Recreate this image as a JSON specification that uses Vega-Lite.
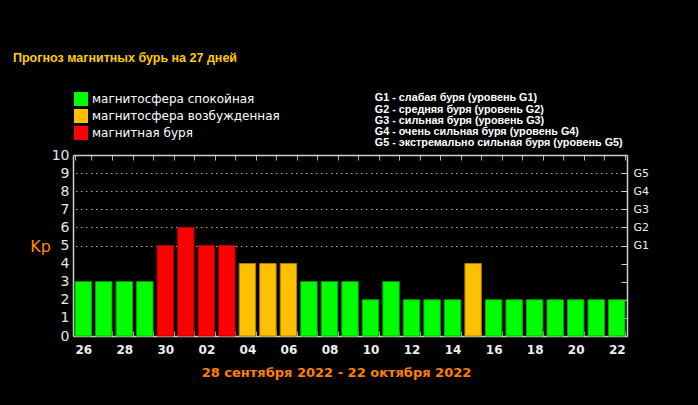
{
  "$schema": "https://vega.github.io/schema/vega-lite/v6.json",
  "width": 554,
  "height": 181,
  "autosize": {"type": "none"},
  "padding": {"left": 73, "top": 155, "right": 71, "bottom": 69},
  "background": "#000000",
  "title": {
    "text": "Прогноз магнитных бурь на 27 дней",
    "anchor": "start",
    "frame": "group",
    "dx": -60,
    "offset": 28,
    "color": "#FFCC00",
    "font": "Liberation Sans",
    "fontSize": 12.5,
    "fontWeight": "bold"
  },
  "config": {
    "view": {"stroke": null},
    "axis": {"domainColor": "#d0d0d0", "domainWidth": 1.5, "tickColor": "#b0b0b0", "grid": false}
  },
  "data": {
    "values": [
      {"day": "26", "kp": 3, "status": "магнитосфера спокойная"},
      {"day": "27", "kp": 3, "status": "магнитосфера спокойная"},
      {"day": "28", "kp": 3, "status": "магнитосфера спокойная"},
      {"day": "29", "kp": 3, "status": "магнитосфера спокойная"},
      {"day": "30", "kp": 5, "status": "магнитная буря"},
      {"day": "01", "kp": 6, "status": "магнитная буря"},
      {"day": "02", "kp": 5, "status": "магнитная буря"},
      {"day": "03", "kp": 5, "status": "магнитная буря"},
      {"day": "04", "kp": 4, "status": "магнитосфера возбужденная"},
      {"day": "05", "kp": 4, "status": "магнитосфера возбужденная"},
      {"day": "06", "kp": 4, "status": "магнитосфера возбужденная"},
      {"day": "07", "kp": 3, "status": "магнитосфера спокойная"},
      {"day": "08", "kp": 3, "status": "магнитосфера спокойная"},
      {"day": "09", "kp": 3, "status": "магнитосфера спокойная"},
      {"day": "10", "kp": 2, "status": "магнитосфера спокойная"},
      {"day": "11", "kp": 3, "status": "магнитосфера спокойная"},
      {"day": "12", "kp": 2, "status": "магнитосфера спокойная"},
      {"day": "13", "kp": 2, "status": "магнитосфера спокойная"},
      {"day": "14", "kp": 2, "status": "магнитосфера спокойная"},
      {"day": "15", "kp": 4, "status": "магнитосфера возбужденная"},
      {"day": "16", "kp": 2, "status": "магнитосфера спокойная"},
      {"day": "17", "kp": 2, "status": "магнитосфера спокойная"},
      {"day": "18", "kp": 2, "status": "магнитосфера спокойная"},
      {"day": "19", "kp": 2, "status": "магнитосфера спокойная"},
      {"day": "20", "kp": 2, "status": "магнитосфера спокойная"},
      {"day": "21", "kp": 2, "status": "магнитосфера спокойная"},
      {"day": "22", "kp": 2, "status": "магнитосфера спокойная"}
    ]
  },
  "layer": [
    {
      "mark": {"type": "bar", "strokeWidth": 1},
      "encoding": {
        "x": {
          "field": "day", "type": "nominal", "sort": null,
          "scale": {"paddingInner": 0.2, "paddingOuter": 0.1},
          "axis": {
            "orient": "bottom",
            "tickBand": "extent",
            "tickSize": -5,
            "labelPadding": 13,
            "labelAngle": 0,
            "labelOverlap": false,
            "labelExpr": "indexof(['26','28','30','02','04','06','08','10','12','14','16','18','20','22'], datum.value) >= 0 ? datum.label : ''",
            "labelColor": "#eeeeee",
            "labelFont": "DejaVu Sans",
            "labelFontSize": 12,
            "labelFontWeight": "bold",
            "title": "28 сентября 2022 - 22 октября 2022",
            "titleX": 263,
            "titleY": 36,
            "titleAlign": "center",
            "titleBaseline": "middle",
            "titleColor": "#FF8000",
            "titleFont": "DejaVu Sans",
            "titleFontSize": 13,
            "titleFontWeight": "bold"
          }
        },
        "y": {
          "field": "kp", "type": "quantitative",
          "scale": {"domain": [0, 10], "nice": false},
          "axis": {
            "orient": "left",
            "values": [0, 1, 2, 3, 4, 5, 6, 7, 8, 9, 10],
            "ticks": false,
            "labelPadding": 4,
            "labelColor": "#e6e6e6",
            "labelFont": "DejaVu Sans",
            "labelFontSize": 14,
            "title": "Kp",
            "titleAngle": 0,
            "titleX": -33,
            "titleY": 91,
            "titleAlign": "center",
            "titleBaseline": "middle",
            "titleColor": "#FF8C00",
            "titleFont": "DejaVu Sans",
            "titleFontSize": 16,
            "titleFontWeight": "normal"
          }
        },
        "color": {
          "field": "status", "type": "nominal",
          "scale": {
            "domain": ["магнитосфера спокойная", "магнитосфера возбужденная", "магнитная буря"],
            "range": ["#00FF00", "#FFC000", "#FF0000"]
          },
          "legend": {
            "title": null,
            "orient": "none",
            "legendX": 1,
            "legendY": -63,
            "padding": 0,
            "symbolType": "square",
            "symbolSize": 196,
            "symbolStrokeWidth": 0,
            "symbolOpacity": 1,
            "labelColor": "#ffffff",
            "labelFont": "DejaVu Sans",
            "labelFontSize": 12,
            "labelOffset": 4,
            "rowPadding": 3,
            "labelLimit": 400
          }
        },
        "stroke": {
          "field": "status", "type": "nominal",
          "scale": {
            "domain": ["магнитосфера спокойная", "магнитосфера возбужденная", "магнитная буря"],
            "range": ["#00B000", "#B08000", "#B00000"]
          },
          "legend": null
        }
      }
    },
    {
      "mark": {"type": "point", "opacity": 0},
      "encoding": {
        "x": {
          "field": "day", "type": "nominal", "sort": null,
          "axis": {"orient": "top", "labels": false, "tickBand": "extent", "tickSize": -5, "title": null}
        },
        "y": {
          "field": "kp", "type": "quantitative",
          "axis": {
            "orient": "right",
            "values": [0, 1, 2, 3, 4, 5, 6, 7, 8, 9, 10],
            "labelExpr": "datum.value >= 5 && datum.value <= 9 ? 'G' + (datum.value - 4) : ''",
            "grid": true,
            "gridDash": [1.5, 3.5],
            "gridColor": "#aaaaaa",
            "gridOpacity": {"condition": {"test": "datum.value >= 5 && datum.value <= 9", "value": 1}, "value": 0},
            "tickSize": -6,
            "tickColor": "#d0d0d0",
            "labelPadding": 12,
            "labelColor": "#eeeeee",
            "labelFont": "DejaVu Sans",
            "labelFontSize": 11,
            "title": null
          }
        }
      }
    },
    {
      "data": {
        "values": [
          {"g": "G1 - слабая буря (уровень G1)"},
          {"g": "G2 - средняя буря (уровень G2)"},
          {"g": "G3 - сильная буря (уровень G3)"},
          {"g": "G4 - очень сильная буря (уровень G4)"},
          {"g": "G5 - экстремально сильная буря (уровень G5)"}
        ]
      },
      "mark": {"type": "point", "opacity": 0},
      "encoding": {
        "shape": {
          "field": "g", "type": "nominal",
          "legend": {
            "title": null,
            "orient": "none",
            "legendX": 291,
            "legendY": -62,
            "padding": 0,
            "symbolSize": 0,
            "symbolOpacity": 0,
            "symbolStrokeWidth": 0,
            "labelOffset": 0,
            "labelColor": "#ffffff",
            "labelFont": "Liberation Sans",
            "labelFontSize": 10.8,
            "labelFontWeight": "bold",
            "rowPadding": -0.8,
            "labelLimit": 400
          }
        }
      }
    }
  ],
  "resolve": {"axis": {"x": "independent", "y": "independent"}}
}
